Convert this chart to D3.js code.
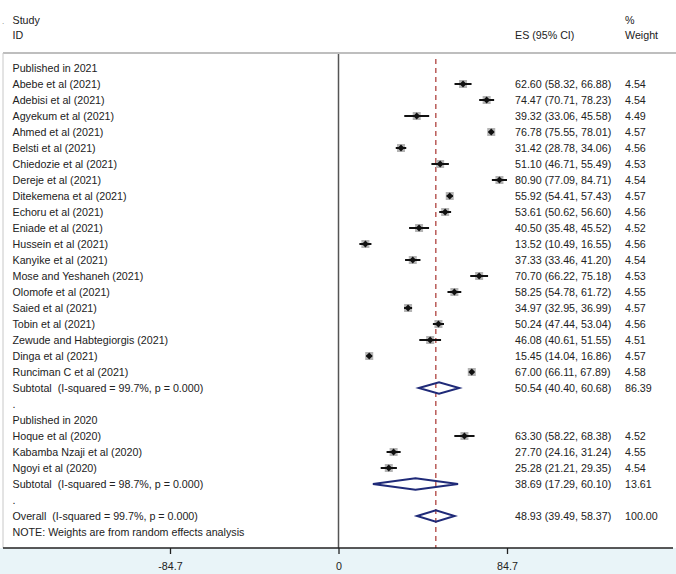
<!DOCTYPE html>
<html>
<head>
<meta charset="utf-8">
<script src="https://cdn.jsdelivr.net/npm/d3@7"></script>
<style>
  body { margin: 0; background: #fff; }
  svg { display: block; font-family: "Liberation Sans", Arial, Helvetica, sans-serif; }
  svg text { white-space: pre; }
</style>
</head>
<body>
<svg id="chart" width="676" height="574"></svg>
<script>
// ---- Data ----
const studies2021 = ["Abebe et al (2021)", "Adebisi et al (2021)", "Agyekum et al (2021)", "Ahmed et al (2021)",
  "Belsti et al (2021)", "Chiedozie et al (2021)", "Dereje et al (2021)", "Ditekemena et al (2021)",
  "Echoru et al (2021)", "Eniade et al (2021)", "Hussein et al (2021)", "Kanyike et al (2021)",
  "Mose and Yeshaneh (2021)", "Olomofe et al (2021)", "Saied et al (2021)", "Tobin et al (2021)",
  "Zewude and Habtegiorgis (2021)", "Dinga et al (2021)", "Runciman C et al (2021)"];
const es2021 = [62.60, 74.47, 39.32, 76.78, 31.42, 51.10, 80.90, 55.92, 53.61, 40.50, 13.52, 37.33, 70.70, 58.25, 34.97, 50.24, 46.08, 15.45, 67.00];
const lo2021 = [58.32, 70.71, 33.06, 75.55, 28.78, 46.71, 77.09, 54.41, 50.62, 35.48, 10.49, 33.46, 66.22, 54.78, 32.95, 47.44, 40.61, 14.04, 66.11];
const hi2021 = [66.88, 78.23, 45.58, 78.01, 34.06, 55.49, 84.71, 57.43, 56.60, 45.52, 16.55, 41.20, 75.18, 61.72, 36.99, 53.04, 51.55, 16.86, 67.89];
const w2021  = [4.54, 4.54, 4.49, 4.57, 4.56, 4.53, 4.54, 4.57, 4.56, 4.52, 4.56, 4.54, 4.53, 4.55, 4.57, 4.56, 4.51, 4.57, 4.58];

const studies2020 = ["Hoque et al (2020)", "Kabamba Nzaji et al (2020)", "Ngoyi et al (2020)"];
const es2020 = [63.30, 27.70, 25.28];
const lo2020 = [58.22, 24.16, 21.21];
const hi2020 = [68.38, 31.24, 29.35];
const w2020  = [4.52, 4.55, 4.54];

const pooledLabels = ["Subtotal  (I-squared = 99.7%, p = 0.000)", "Subtotal  (I-squared = 98.7%, p = 0.000)", "Overall  (I-squared = 99.7%, p = 0.000)"];
const pooledES = [50.54, 38.69, 48.93];
const pooledLo = [40.40, 17.29, 39.49];
const pooledHi = [60.68, 60.10, 58.37];
const pooledW  = [86.39, 13.61, 100.00];

const tickValues = [-84.7, 0, 84.7];
const tickLabels = ["-84.7", "0", "84.7"];
const noteText = "NOTE: Weights are from random effects analysis";

// ---- Build rows ----
const rows = [];
rows.push({type: "head", label: "Published in 2021"});
studies2021.forEach((s, i) => rows.push({type: "study", label: s, es: es2021[i], lo: lo2021[i], hi: hi2021[i], w: w2021[i]}));
rows.push({type: "pooled", label: pooledLabels[0], es: pooledES[0], lo: pooledLo[0], hi: pooledHi[0], w: pooledW[0]});
rows.push({type: "head", label: "."});
rows.push({type: "head", label: "Published in 2020"});
studies2020.forEach((s, i) => rows.push({type: "study", label: s, es: es2020[i], lo: lo2020[i], hi: hi2020[i], w: w2020[i]}));
rows.push({type: "pooled", label: pooledLabels[1], es: pooledES[1], lo: pooledLo[1], hi: pooledHi[1], w: pooledW[1]});
rows.push({type: "head", label: "."});
rows.push({type: "pooled", label: pooledLabels[2], es: pooledES[2], lo: pooledLo[2], hi: pooledHi[2], w: pooledW[2], overall: true});
rows.push({type: "head", label: noteText});

// ---- Layout ----
const svg = d3.select("#chart");
const W = 676, H = 574;
const x = d3.scaleLinear().domain([0, 84.7]).range([338.5, 507]);
const y = d3.scaleLinear().domain([0, rows.length - 1]).range([68, 68 + 16 * (rows.length - 1)]);
const axisY = 548;
const topLine = 53;
const fs = 10.7;
const txt = "#222";
const fmt = d3.format(".2f");

// background of axis region
svg.append("rect").attr("x", 0).attr("y", axisY).attr("width", W).attr("height", H - axisY).attr("fill", "#e9f4f8");

// blur filter for boxes
const defs = svg.append("defs");
defs.append("filter").attr("id", "soft").append("feGaussianBlur").attr("stdDeviation", 0.7);

// header
const hdr = svg.append("g").attr("font-size", fs).attr("fill", txt);
hdr.append("text").attr("x", 2).attr("y", 24).attr("font-size", 8).attr("fill", "#777").text(".");
hdr.append("text").attr("x", 12.5).attr("y", 24).text("Study");
hdr.append("text").attr("x", 12.5).attr("y", 39).text("ID");
hdr.append("text").attr("x", 515).attr("y", 39).text("ES (95% CI)");
hdr.append("text").attr("x", 625).attr("y", 24).text("%");
hdr.append("text").attr("x", 625).attr("y", 39).text("Weight");

// header line, left border
svg.append("line").attr("x1", 3).attr("x2", W).attr("y1", topLine).attr("y2", topLine)
  .attr("stroke", "#a8a8a8").attr("stroke-width", 1.4);
svg.append("line").attr("x1", 3).attr("x2", 3).attr("y1", topLine).attr("y2", axisY)
  .attr("stroke", "#c8c8c8").attr("stroke-width", 1);

// zero line
svg.append("line").attr("x1", x(0)).attr("x2", x(0)).attr("y1", topLine + 1).attr("y2", axisY)
  .attr("stroke", "#555").attr("stroke-width", 1.5);

// overall dashed line
svg.append("line").attr("x1", x(pooledES[2])).attr("x2", x(pooledES[2])).attr("y1", 59).attr("y2", axisY)
  .attr("stroke", "#a8322f").attr("stroke-width", 1.2).attr("stroke-dasharray", "5,4");

// axis
const axisG = svg.append("g").attr("transform", `translate(0,${axisY})`)
  .call(d3.axisBottom(x).tickValues(tickValues).tickSize(6).tickFormat((d, i) => tickLabels[i]));
axisG.select(".domain").remove();
axisG.selectAll(".tick line").attr("stroke", "#222").attr("stroke-width", 1.3);
axisG.selectAll(".tick text").attr("font-size", fs).attr("fill", txt).attr("dy", "1.25em")
  .attr("font-family", "'Liberation Sans', Arial, sans-serif");
svg.append("line").attr("x1", 3).attr("x2", 673).attr("y1", axisY).attr("y2", axisY)
  .attr("stroke", "#222").attr("stroke-width", 1.4);

// rows
const g = svg.append("g");
rows.forEach((r, i) => {
  const cy = y(i);
  g.append("text").attr("x", 12.5).attr("y", cy + 3.8).attr("font-size", fs).attr("fill", txt).text(r.label);
  if (r.type === "study") {
    const bs = 8;
    g.append("rect").attr("x", x(r.es) - bs / 2).attr("y", cy - bs / 2).attr("width", bs).attr("height", bs)
      .attr("fill", "#b4b4b4").attr("filter", "url(#soft)");
    g.append("line").attr("x1", x(r.lo)).attr("x2", x(r.hi)).attr("y1", cy).attr("y2", cy)
      .attr("stroke", "#111").attr("stroke-width", 2);
    const d = 3.4;
    const cx = x(r.es);
    g.append("path").attr("d", `M${cx - d},${cy}L${cx},${cy - d}L${cx + d},${cy}L${cx},${cy + d}Z`).attr("fill", "#111");
  }
  if (r.type === "pooled") {
    const h = 5.8;
    g.append("path")
      .attr("d", `M${x(r.lo)},${cy}L${x(r.es)},${cy - h}L${x(r.hi)},${cy}L${x(r.es)},${cy + h}Z`)
      .attr("fill", "none").attr("stroke", "#1f2a78").attr("stroke-width", 2);
  }
  if (r.type === "study" || r.type === "pooled") {
    g.append("text").attr("x", 515).attr("y", cy + 3.8).attr("font-size", fs).attr("fill", txt)
      .text(`${fmt(r.es)} (${fmt(r.lo)}, ${fmt(r.hi)})`);
    g.append("text").attr("x", 625).attr("y", cy + 3.8).attr("font-size", fs).attr("fill", txt)
      .text(fmt(r.w));
  }
});
</script>
</body>
</html>
